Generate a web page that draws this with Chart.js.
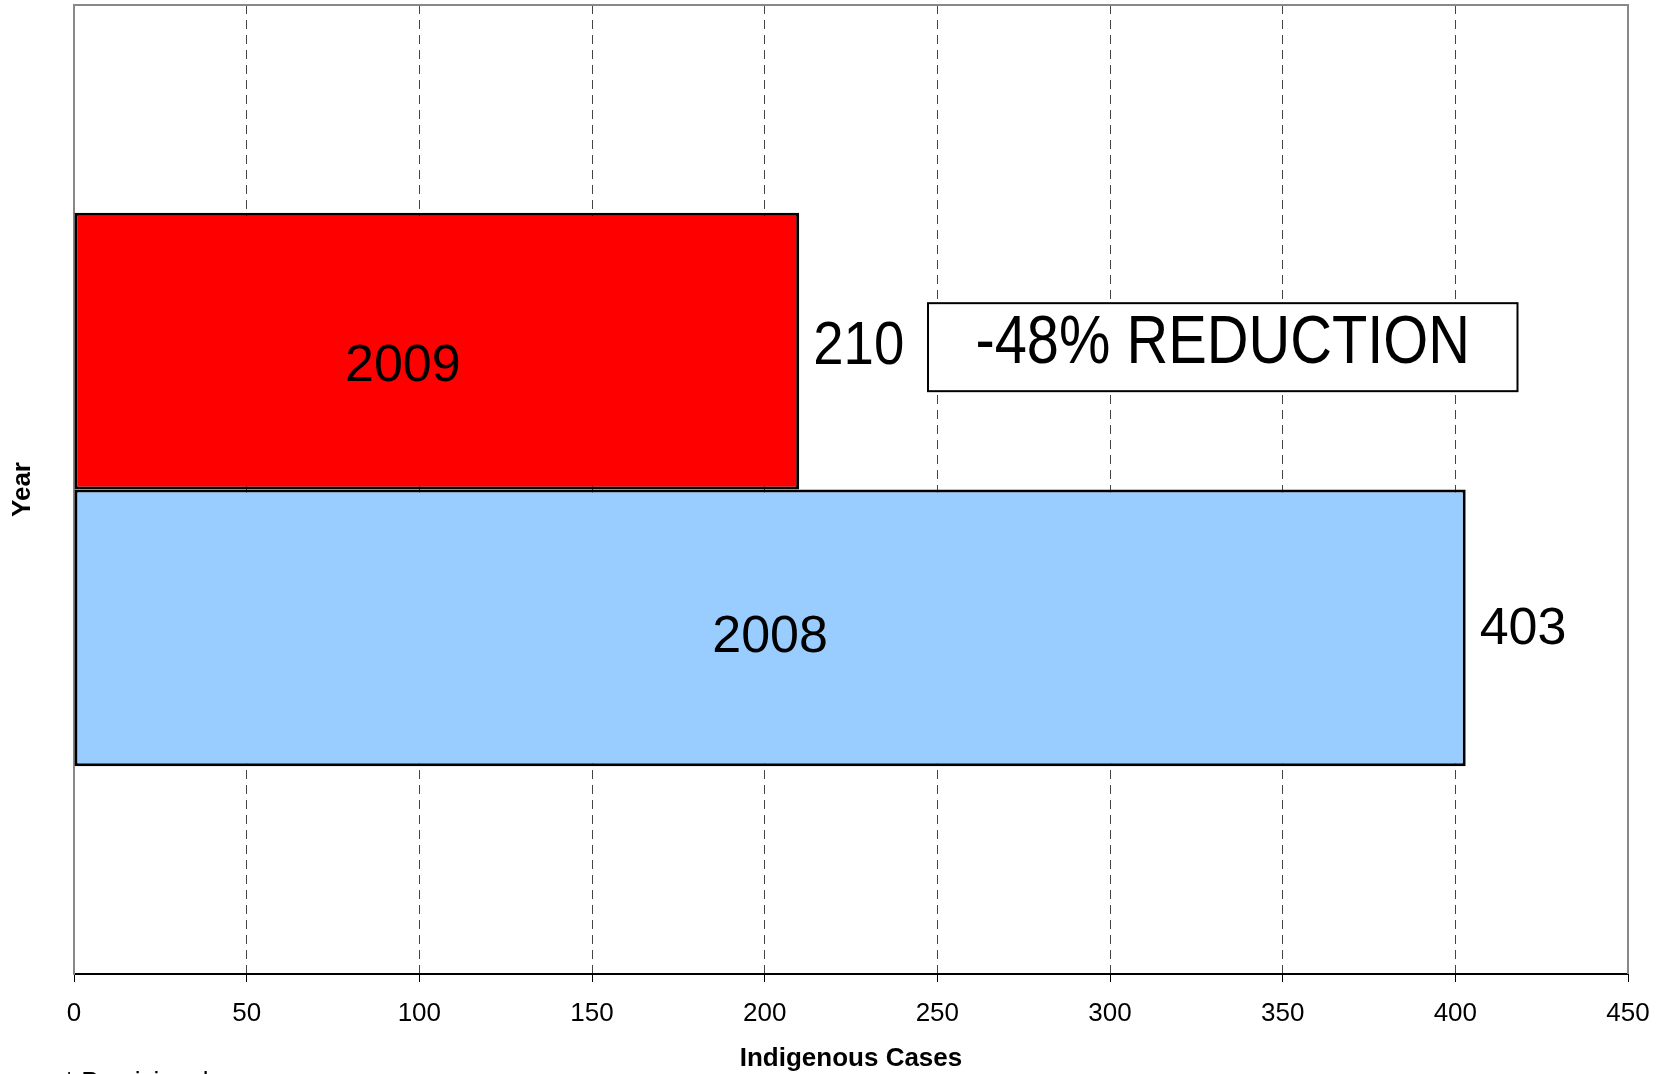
<!DOCTYPE html>
<html>
<head>
<meta charset="utf-8">
<script src="https://cdn.jsdelivr.net/npm/chart.js@4/dist/chart.umd.min.js"></script>
<style>
  html, body { margin: 0; padding: 0; background: #fff; }
  canvas { display: block; }
</style>
</head>
<body>
<canvas id="cases-chart" width="1659" height="1074"></canvas>
<script>
// data
let categories = ['Indigenous Cases'];
let years = ['2009', '2008'];
let cases = [210, 403];
let barColors = ['#ff0000', '#99ccff'];
let xMin = 0;
let xMax = 450;
let xStep = 50;
let noteText = '-48% REDUCTION';
let noteFrom = 247.3;
let noteTo = 418;
let footnote = '* Provisional';

let fontFamily = '"Liberation Sans", Arial, Helvetica, sans-serif';

// draws a string squeezed horizontally
function squeezedText(ctx, text, x, y, sx) {
    ctx.save();
    ctx.translate(x, y);
    ctx.scale(sx, 1);
    ctx.fillText(text, 0, 0);
    ctx.restore();
}

let barLabels = {
    id: 'barLabels',
    afterDatasetsDraw(chart) {
        let ctx = chart.ctx;
        ctx.save();
        ctx.fillStyle = '#000';
        ctx.textBaseline = 'middle';
        chart.data.datasets.forEach(function(ds, i) {
            let bar = chart.getDatasetMeta(i).data[0];
            let p = bar.getProps(['x', 'y', 'base'], true);

            // year inside the bar (2009 sits a bit left and low)
            ctx.font = '52px ' + fontFamily;
            ctx.textAlign = 'center';
            if (i == 0) {
                ctx.fillText(ds.label, (p.x + p.base) / 2 - 34, p.y + 15);
            } else {
                ctx.fillText(ds.label, (p.x + p.base) / 2, p.y + 10);
            }

            // value at the end of the bar
            ctx.textAlign = 'left';
            if (i == 0) {
                ctx.font = '62px ' + fontFamily;
                squeezedText(ctx, String(ds.data[0]), p.x + 14, p.y - 4, 0.88);
            } else {
                ctx.font = '52px ' + fontFamily;
                ctx.fillText(String(ds.data[0]), p.x + 14, p.y + 2);
            }
        });

        // reduction note, next to the 2009 bar
        let top = chart.getDatasetMeta(0).data[0].y;
        let x = chart.scales.x;
        let left = x.getPixelForValue(noteFrom);
        let right = x.getPixelForValue(noteTo);
        ctx.fillStyle = '#fff';
        ctx.strokeStyle = '#000';
        ctx.lineWidth = 2;
        ctx.fillRect(left, top - 48, right - left, 88);
        ctx.strokeRect(left, top - 48, right - left, 88);
        ctx.fillStyle = '#000';
        ctx.textAlign = 'center';
        ctx.font = '68px ' + fontFamily;
        squeezedText(ctx, noteText, (left + right) / 2, top - 7, 0.85);
        ctx.restore();
    }
};

let frame = {
    id: 'frame',
    afterDraw(chart) {
        let ctx = chart.ctx;
        let a = chart.chartArea;
        ctx.save();
        ctx.strokeStyle = '#888';
        ctx.lineWidth = 2;
        ctx.beginPath();
        ctx.moveTo(a.left, a.top);
        ctx.lineTo(a.right, a.top);
        ctx.lineTo(a.right, a.bottom);
        ctx.stroke();

        // footnote, cut by the bottom edge
        ctx.fillStyle = '#000';
        ctx.font = '26px ' + fontFamily;
        ctx.textAlign = 'left';
        ctx.textBaseline = 'alphabetic';
        ctx.fillText(footnote, 64, 1090);
        ctx.restore();
    }
};

let ctx = document.getElementById('cases-chart').getContext('2d');

let casesChart = new Chart(ctx, {
    type: 'bar',
    data: {
        labels: categories,
        datasets: years.map(function(y, i) {
            return {
                label: y,
                data: [cases[i]],
                backgroundColor: barColors[i],
                borderColor: '#000',
                borderWidth: 3,
                borderSkipped: false,
                categoryPercentage: 0.571,
                barPercentage: 1.0
            };
        })
    },
    options: {
        indexAxis: 'y',
        responsive: false,
        devicePixelRatio: 1,
        animation: false,
        layout: {
            padding: { top: 5, right: 31, left: 0, bottom: 0 }
        },
        plugins: {
            legend: { display: false },
            tooltip: { enabled: false }
        },
        scales: {
            x: {
                min: xMin,
                max: xMax,
                ticks: {
                    stepSize: xStep,
                    color: '#000',
                    padding: 16,
                    maxRotation: 0,
                    font: { family: fontFamily, size: 26 }
                },
                grid: {
                    color: '#444',
                    lineWidth: 1,
                    tickBorderDash: [],
                    tickColor: '#000',
                    tickLength: 8
                },
                border: { display: true, color: '#000', width: 2, dash: [9, 6] },
                title: {
                    display: true,
                    text: 'Indigenous Cases',
                    color: '#000',
                    padding: { top: 0, bottom: 0 },
                    font: { family: fontFamily, size: 26, weight: 'bold' }
                },
                afterFit: function(scale) {
                    scale.height = 100;
                    scale.paddingLeft = 0;
                    scale.paddingRight = 0;
                }
            },
            y: {
                ticks: { display: false },
                grid: { display: false, drawTicks: false },
                border: { display: true, color: '#888', width: 2 },
                title: {
                    display: true,
                    text: 'Year',
                    color: '#000',
                    padding: { top: 7, bottom: 0 },
                    font: { family: fontFamily, size: 26, weight: 'bold' }
                },
                afterFit: function(scale) { scale.width = 74; }
            }
        }
    },
    plugins: [barLabels, frame]
});
</script>
</body>
</html>
